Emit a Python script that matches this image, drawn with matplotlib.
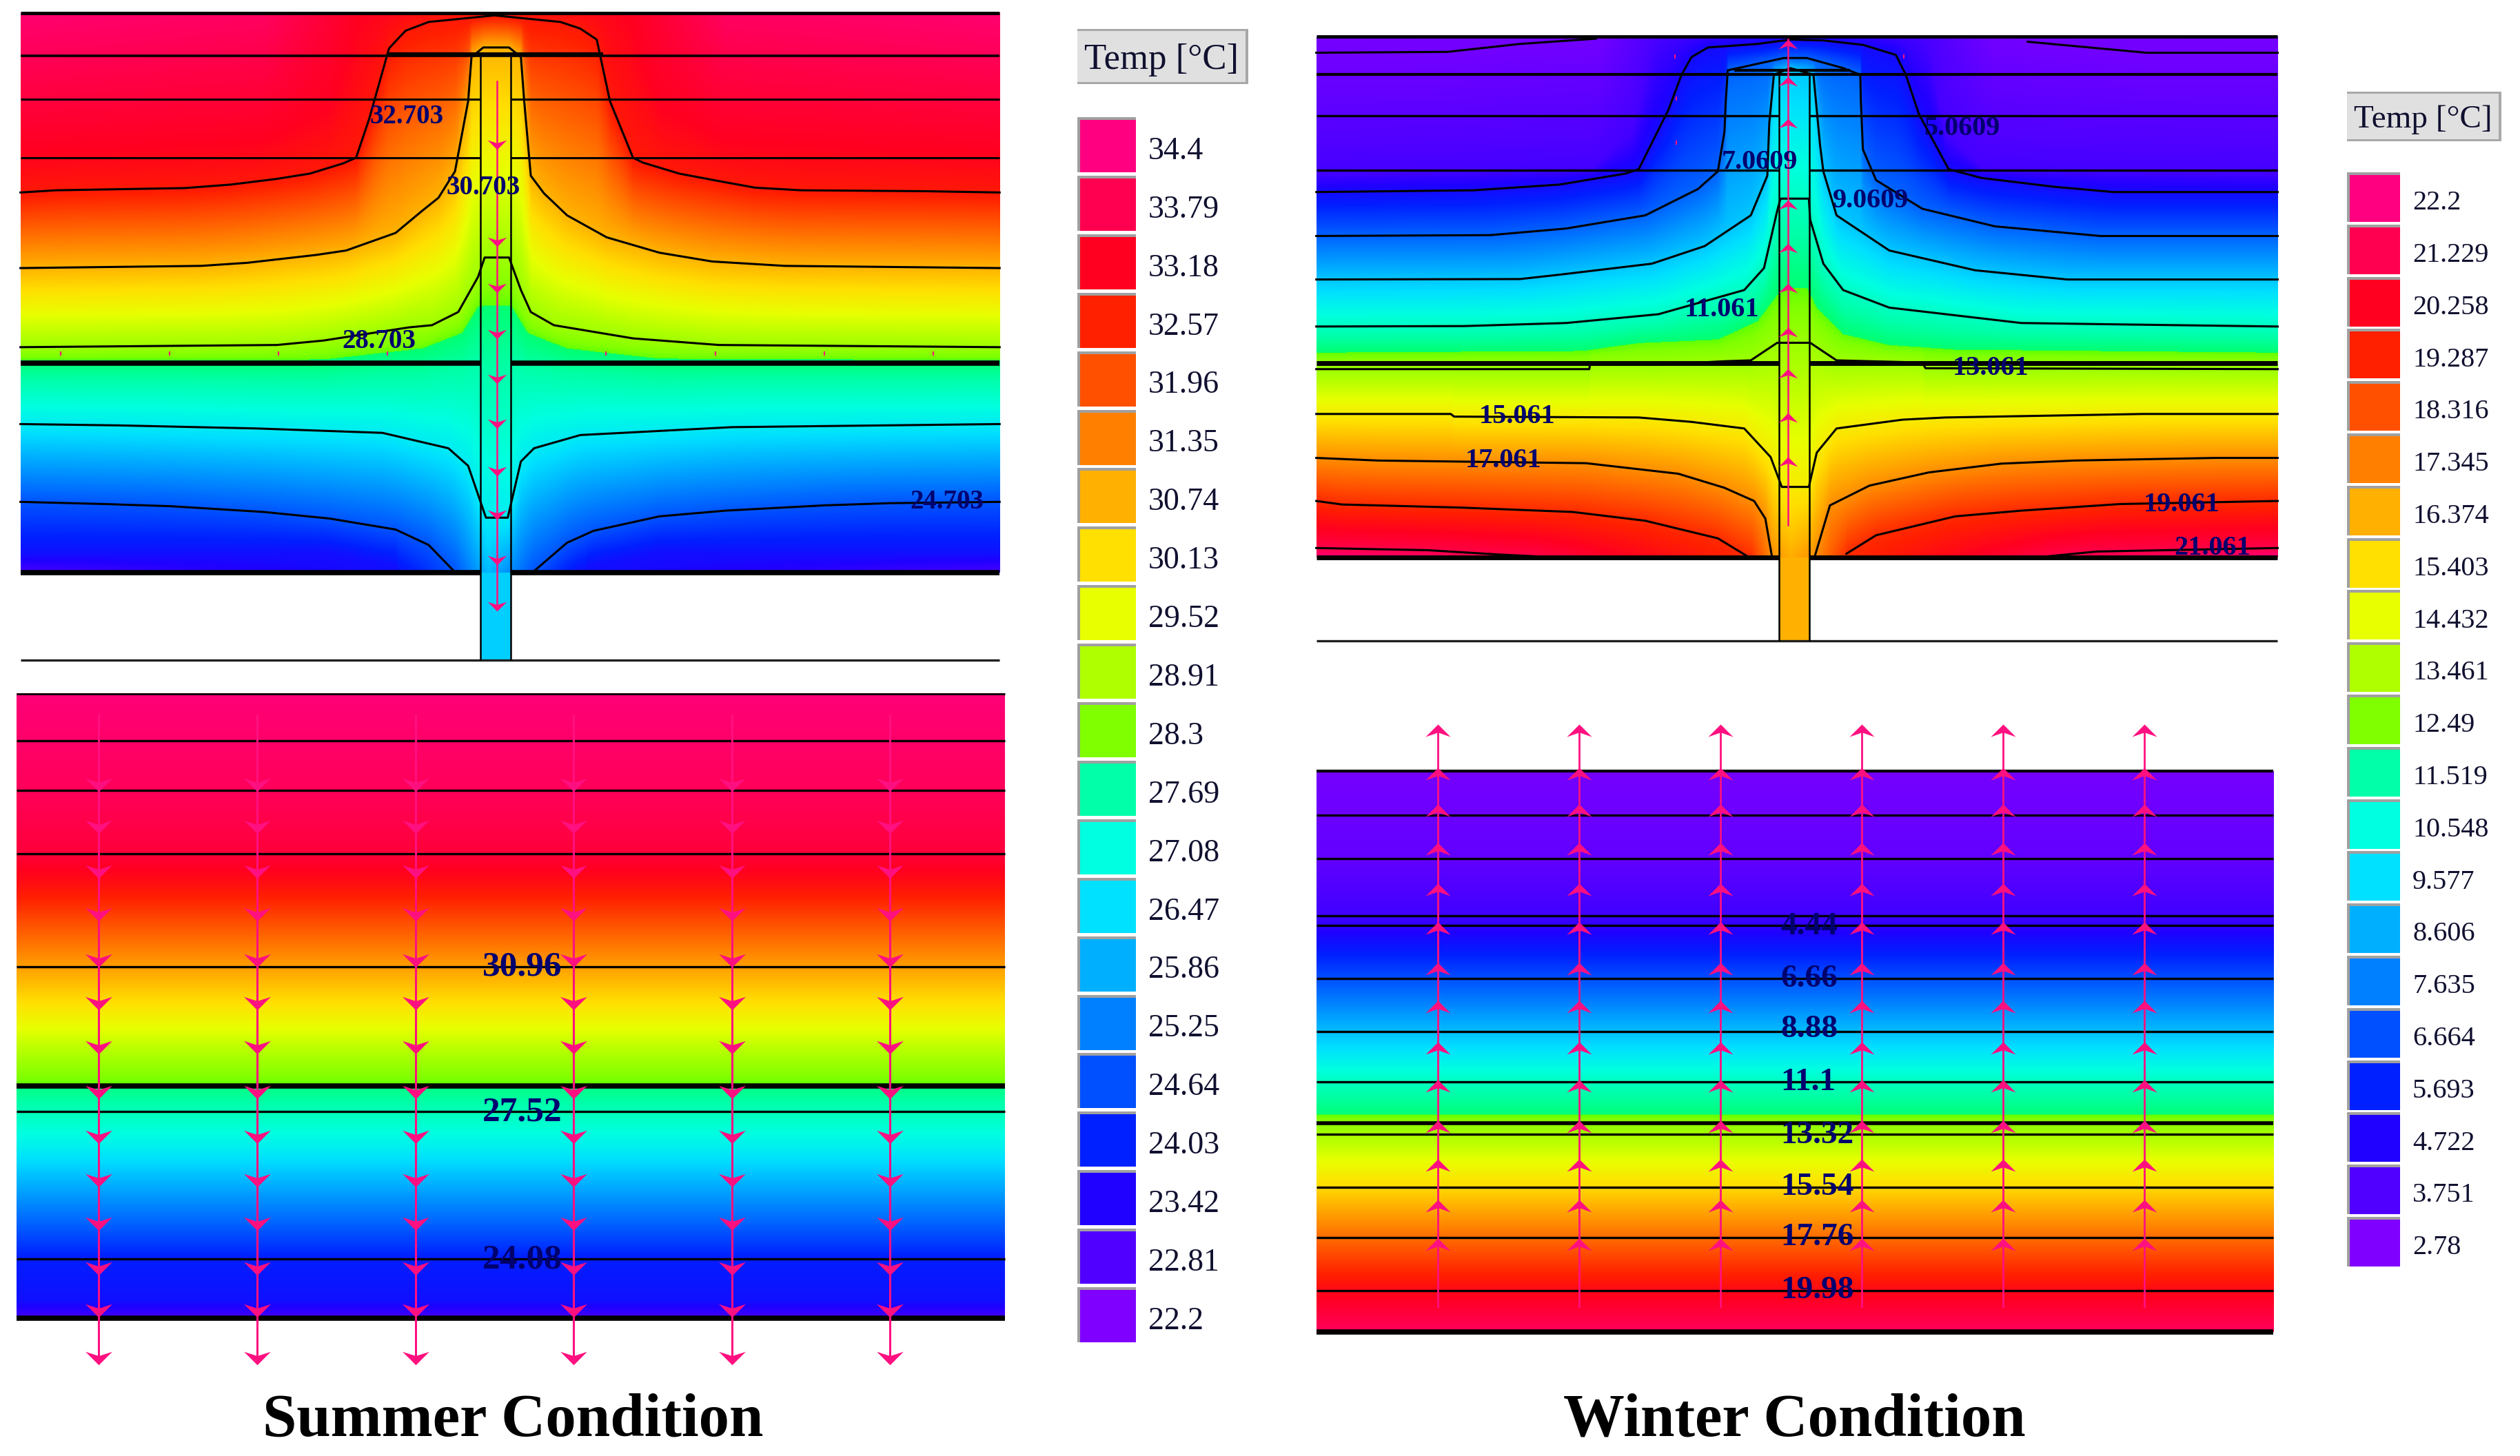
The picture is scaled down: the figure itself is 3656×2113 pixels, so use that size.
import numpy as np
import matplotlib
matplotlib.use('Agg')
import matplotlib.pyplot as plt
from matplotlib.colors import LinearSegmentedColormap
from matplotlib.patches import Rectangle
from matplotlib.path import Path

W, H = 3656, 2113
SERIF = ['Liberation Serif', 'DejaVu Serif']
PINK = '#FF1080'
NAVY = '#00006E'

# legend swatches, top to bottom
swatch_colors = ['#FF0080', '#FF0050', '#FF0020', '#FF2000', '#FF5000', '#FF8000', '#FFB000',
                 '#FFE000', '#E8FF00', '#B0FF00', '#80FF00', '#00FFA8', '#00FFE0', '#00E0FF',
                 '#00B0FF', '#0080FF', '#0050FF', '#0020FF', '#2000FF', '#5000FF', '#8000FF']
summer_ticks = ['34.4', '33.79', '33.18', '32.57', '31.96', '31.35', '30.74', '30.13', '29.52', '28.91',
                '28.3', '27.69', '27.08', '26.47', '25.86', '25.25', '24.64', '24.03', '23.42', '22.81', '22.2']
winter_ticks = ['22.2', '21.229', '20.258', '19.287', '18.316', '17.345', '16.374', '15.403', '14.432',
                '13.461', '12.49', '11.519', '10.548', '9.577', '8.606', '7.635', '6.664', '5.693',
                '4.722', '3.751', '2.78']

# summer detail isotherms as (x, depth)
s_33 = [(31, 345), (400, 320), (500, 240), (530, 120), (545, 20), (955, 20), (970, 120), (1000, 240), (1100, 320), (1516, 345)]
s_32 = [(31, 438), (85, 433), (280, 428), (350, 420), (420, 407), (470, 395), (520, 372), (540, 359), (560, 270), (590, 110), (615, 70), (650, 50), (750, 35),
        (850, 50), (880, 65), (905, 90), (925, 230), (960, 359), (975, 370), (1030, 395), (1090, 412), (1145, 427), (1215, 433), (1400, 435), (1516, 438)]
s_30 = [(31, 610), (305, 605), (375, 598), (480, 580), (525, 570), (600, 530), (640, 480), (665, 450), (690, 390), (710, 230), (715, 130), (733, 108), (772, 108),
        (790, 130), (795, 230), (805, 400), (825, 440), (860, 490), (920, 540), (1000, 575), (1080, 595), (1190, 605), (1516, 610)]
s_28 = [(31, 790), (420, 785), (490, 775), (620, 745), (655, 740), (695, 710), (725, 630), (735, 586), (772, 586), (790, 660),
        (805, 710), (840, 740), (960, 770), (1090, 785), (1516, 790)]
s_28j = [(31, 821), (490, 820), (640, 795), (700, 760), (725, 700), (775, 700), (800, 760), (860, 795), (1000, 818), (1516, 821)]
s_26 = [(31, 965), (180, 968), (390, 975), (580, 985), (680, 1020), (710, 1060), (737, 1178), (770, 1178), (790, 1050),
        (810, 1020), (880, 990), (1110, 972), (1340, 968), (1516, 965)]
s_24 = [(31, 1142), (160, 1147), (260, 1152), (400, 1165), (500, 1180), (600, 1205), (650, 1240), (690, 1302), (691, 1400),
        (807, 1400), (808, 1302), (860, 1235), (900, 1208), (1000, 1175), (1100, 1162), (1250, 1150), (1350, 1145), (1516, 1142)]
s_23 = [(31, 1262), (500, 1258), (600, 1290), (625, 1400), (870, 1400), (890, 1290), (1000, 1258), (1516, 1262)]
summer_levels = [33.18, 32.703, 30.703, 28.703, 28.1, 26.703, 24.703, 23.7]
summer_curves = [s_33, s_32, s_30, s_28, s_28j, s_26, s_24, s_23]
summer_drawn = [False, True, True, True, False, True, True, False]
summer_top_x = [31, 400, 545, 650, 750, 850, 955, 1100, 1516]
summer_top_t = [34.2, 34.0, 33.18, 32.9, 32.75, 32.9, 33.18, 34.0, 34.2]
summer_bot_x = [31, 600, 690, 740, 808, 880, 1516]
summer_bot_t = [22.9, 23.7, 24.7, 26.0, 24.7, 23.7, 22.9]
summer_notes = [('32.703', 617, 265), ('30.703', 733, 428), ('28.703', 575, 777), ('24.703', 1436, 1142)]
summer_marks = [92, 257, 422, 588, 919, 1085, 1250, 1415]
summer_heads = [330, 550, 655, 760, 862, 965, 1072, 1172, 1275, 1380]

# winter detail isotherms
w_3 = [(31, 120), (230, 118), (340, 100), (455, 88), (460, 70), (1060, 70), (1110, 95), (1290, 120), (1489, 120)]
w_4 = [(31, 395), (450, 380), (510, 300), (540, 120), (560, 70), (940, 70), (960, 120), (985, 300), (1040, 380), (1489, 395)]
w_5 = [(31, 437), (270, 433), (400, 420), (500, 395), (520, 385), (565, 250), (585, 170), (600, 130), (625, 108), (700, 100),
       (750, 90), (800, 92), (860, 102), (910, 125), (925, 170), (945, 260), (990, 385), (1040, 405), (1150, 425), (1240, 437), (1489, 437)]
w_7 = [(31, 537), (295, 535), (410, 520), (530, 490), (610, 430), (640, 390), (650, 300), (652, 230), (655, 160), (740, 132),
       (775, 132), (830, 155), (856, 170), (857, 235), (860, 340), (880, 410), (950, 475), (1060, 515), (1220, 537), (1489, 537)]
w_9 = [(31, 636), (340, 635), (400, 625), (540, 600), (620, 560), (690, 490), (715, 400), (718, 280), (725, 170), (750, 155),
       (785, 170), (795, 330), (800, 390), (820, 490), (900, 570), (1030, 615), (1170, 636), (1489, 636)]
w_11 = [(31, 743), (255, 742), (410, 735), (550, 715), (680, 660), (710, 610), (730, 480), (735, 452), (778, 452), (780, 500),
        (800, 600), (830, 660), (900, 700), (1100, 735), (1240, 738), (1489, 743)]
w_12 = [(31, 802), (435, 798), (520, 780), (640, 772), (700, 730), (730, 670), (740, 655), (775, 655), (790, 700), (830, 760),
        (900, 785), (1000, 795), (1489, 802)]
w_13 = [(31, 840), (445, 840), (446, 830), (550, 830), (650, 822), (690, 820), (730, 780), (780, 780), (820, 820), (950, 825),
        (955, 838), (1489, 840)]
w_15 = [(31, 942), (235, 942), (240, 948), (520, 950), (600, 960), (680, 975), (720, 1040), (737, 1108), (778, 1108), (790, 1030),
        (820, 975), (920, 955), (985, 950), (1285, 942), (1489, 942)]
w_17 = [(31, 1042), (125, 1048), (440, 1054), (580, 1078), (650, 1110), (695, 1140), (712, 1180), (722, 1266), (723, 1400),
        (786, 1400), (787, 1266), (810, 1150), (870, 1105), (960, 1075), (1070, 1055), (1180, 1048), (1395, 1042), (1489, 1042)]
w_19 = [(31, 1140), (70, 1148), (250, 1155), (420, 1165), (530, 1185), (640, 1225), (685, 1266), (686, 1400), (834, 1400),
        (835, 1260), (880, 1218), (1000, 1175), (1100, 1162), (1250, 1147), (1489, 1140)]
w_21 = [(31, 1247), (200, 1252), (310, 1262), (365, 1266), (366, 1400), (1139, 1400), (1140, 1266), (1215, 1255), (1489, 1247)]
winter_levels = [3.06, 4.0, 5.06, 7.06, 9.06, 11.06, 12.2, 13.06, 15.06, 17.06, 19.06, 21.06]
winter_curves = [w_3, w_4, w_5, w_7, w_9, w_11, w_12, w_13, w_15, w_17, w_19, w_21]
winter_drawn = [True, False, True, True, True, True, False, True, True, True, True, True]
winter_top_x = [31, 460, 560, 700, 750, 800, 940, 1060, 1489]
winter_top_t = [3.0, 3.06, 4.0, 4.6, 4.9, 4.6, 4.0, 3.06, 3.0]
winter_bot_x = [31, 365, 690, 722, 750, 787, 835, 1140, 1489]
winter_bot_t = [22.0, 21.06, 19.06, 17.06, 16.4, 17.06, 19.06, 21.06, 22.0]
winter_notes = [('5.0609', 1010, 292), ('7.0609', 703, 370), ('9.0609', 872, 457), ('11.061', 646, 705), ('13.061', 1054, 838),
                ('15.061', 336, 948), ('17.061', 315, 1048), ('19.061', 1343, 1148), ('21.061', 1390, 1247)]
winter_marks_x = [575, 922, 577, 577]
winter_marks_y = [128, 128, 225, 325]
winter_heads = [100, 185, 280, 465, 565, 655, 755, 850, 950, 1050]

# clear-wall profiles, depth against temperature
cs_depth = [37, 132, 232, 360, 420, 587, 680, 820, 832, 879, 950, 1175, 1260, 1295]
cs_temp = [34.3, 34.1, 33.9, 33.5, 32.9, 30.96, 29.9, 28.2, 27.95, 27.52, 26.8, 24.0, 23.72, 22.95]
cs_lines = [132, 232, 360, 587, 879, 1175]
cs_notes = [('30.96', 792, 588), ('27.52', 792, 880), ('24.08', 792, 1177)]
cs_arrow_x = [149, 390, 630, 870, 1110, 1350]
cs_heads = [220, 305, 395, 482, 575, 660, 750, 840, 930, 1017, 1105, 1195, 1280, 1375]

cw_depth = [143, 325, 445, 465, 500, 576, 686, 740, 791, 858, 862, 901, 985, 1012, 1117, 1215, 1227, 1313]
cw_temp = [3.0, 3.4, 4.1, 4.44, 5.2, 6.66, 8.88, 10.0, 11.1, 12.1, 12.3, 13.32, 15.0, 15.54, 17.76, 19.7, 19.98, 21.5]
cw_lines = [235, 325, 445, 465, 576, 686, 791, 901, 1012, 1117, 1227]
cw_notes = [('4.44', 735, 467), ('6.66', 735, 577), ('8.88', 735, 682), ('11.1', 735, 792), ('13.32', 735, 903),
            ('15.54', 735, 1012), ('17.76', 735, 1117), ('19.98', 735, 1227)]
cw_arrow_x = [215, 430, 644, 858, 1073, 1287]
cw_heads = [58, 148, 225, 305, 390, 470, 555, 635, 720, 800, 885, 965, 1050, 1130]

# rainbow from the swatches, with the hard step seen at the insulation face
stops = [(i / 20, c) for i, c in enumerate(swatch_colors[::-1])]
stops = stops[:10] + [(0.4849, '#00FF70'), (0.485, '#60FF00')] + stops[10:]
rainbow = LinearSegmentedColormap.from_list('temp', stops, N=1024)

head_down = Path([(-1, 0.5), (0, -0.5), (1, 0.5), (0, 0.18), (-1, 0.5)], closed=True)
head_up = Path([(-1, -0.5), (0, 0.5), (1, -0.5), (0, -0.15), (-1, -0.5)], closed=True)

fig = plt.figure(figsize=(W / 100, H / 100), dpi=100)


def crop_axes(x, y, w, h):
    ax = fig.add_axes([x / W, 1 - (y + h) / H, w / W, h / H])
    ax.set_xlim(0, 1568)
    ax.set_ylim(1568, 0)
    ax.axis('off')
    return ax


def detail_field(curves, levels, top_x, top_t, bot_x, bot_t, x0, x1, y0, y1):
    xs = np.linspace(x0, x1, 800)
    ys = np.linspace(y0, y1, 700)
    out = np.zeros((ys.size, xs.size))
    parsed = [np.array(c, float) for c in curves]
    for j, x in enumerate(xs):
        py, pt = [y0], [np.interp(x, top_x, top_t)]
        for lev, c in zip(levels, parsed):
            y = np.interp(x, c[:, 0], c[:, 1])
            if py[-1] < y < y1:
                py.append(y)
                pt.append(lev)
        py.append(y1)
        pt.append(np.interp(x, bot_x, bot_t))
        out[:, j] = np.interp(ys, py, pt)
    return out


def draw_detail(ax, curves, levels, drawn, top, bot, x0, x1, y0, y1, vmin, vmax, notes, size):
    ax.imshow(detail_field(curves, levels, top[0], top[1], bot[0], bot[1], x0, x1, y0, y1),
              cmap=rainbow, vmin=vmin, vmax=vmax, extent=(x0, x1, y1, y0), aspect='auto', zorder=1)
    for c, show in zip(curves, drawn):
        if show:
            c = np.array(c, float)
            yy = np.ma.masked_where((c[:, 1] <= y0) | (c[:, 1] >= y1), c[:, 1])
            ax.plot(c[:, 0], yy, color='black', lw=2.2, zorder=3)
    clip = Rectangle((x0, y0), x1 - x0, y1 - y0, transform=ax.transData)
    for s, x, y in notes:
        t = ax.text(x, y, s, ha='center', va='center', family=SERIF, weight='bold', size=size, color=NAVY, zorder=6)
        t.set_clip_path(clip)
    ax.set_xlim(0, 1568)
    ax.set_ylim(1568, 0)


def draw_clear(ax, depth, temp, x0, x1, y0, y1, vmin, vmax, lines, notes, size, ha):
    ys = np.linspace(y0, y1, 800)
    col = np.interp(ys, depth, temp)[:, None]
    ax.imshow(col, cmap=rainbow, vmin=vmin, vmax=vmax, extent=(x0, x1, y1, y0), aspect='auto', zorder=1)
    ax.hlines(lines, x0, x1, color='black', lw=2.4, zorder=3)
    for s, x, y in notes:
        ax.text(x, y, s, ha=ha, va='center', family=SERIF, weight='bold', size=size, color=NAVY, zorder=6)
    ax.set_xlim(0, 1568)
    ax.set_ylim(1568, 0)


def legend(x, y, pitch, bw, bh, tx, ty, tw, thh, ticks, size, tsize):
    for i, (c, s) in enumerate(zip(swatch_colors, ticks)):
        yy = y + i * pitch
        ov.add_patch(Rectangle((x, yy), bw, bh, fc='#A0A0A0', ec='none'))
        ov.add_patch(Rectangle((x + 4, yy + 4), bw - 4, bh - 4, fc=c, ec='none'))
        ov.text(x + bw + 18, yy + bh * 0.62, s, family=SERIF, size=size, va='center', ha='left', color='#101030')
    ov.add_patch(Rectangle((tx, ty), tw, thh, fc='#A8A8A8', ec='none'))
    ov.add_patch(Rectangle((tx, ty + 3), tw - 4, thh - 6, fc='#E0E0E0', ec='none'))
    ov.text(tx + tw / 2 - 2, ty + thh / 2 + 5, 'Temp [°C]', family=SERIF, size=tsize, va='center', ha='center', color='#101030')


# summer detail
a = crop_axes(0, 0, 1500, 1000)
draw_detail(a, summer_curves, summer_levels, summer_drawn, (summer_top_x, summer_top_t), (summer_bot_x, summer_bot_t),
            31, 1516, 30, 1303, 22.2, 34.4, summer_notes, 28)
a.add_patch(Rectangle((729, 1303), 46, 199, fc='#00CFFF', ec='none', zorder=2))
a.hlines([30, 127], 31, 1516, color='black', lw=[3.5, 2.6], zorder=4)
a.hlines(122, 590, 915, color='black', lw=3, zorder=4)
a.hlines([226, 359], 31, 729, color='black', lw=2.2, zorder=4)
a.hlines([226, 359], 775, 1516, color='black', lw=2.2, zorder=4)
a.hlines([827, 1303], 31, 729, color='black', lw=5.5, zorder=4)
a.hlines([827, 1303], 775, 1516, color='black', lw=5.5, zorder=4)
a.hlines(1502, 31, 1516, color='#202020', lw=2.4, zorder=4)
a.vlines([729, 775], 120, 1502, color='black', lw=1.8, zorder=4)
a.plot(summer_marks, [805] * len(summer_marks), ls='none', marker='|', ms=4, mew=1.5, color=PINK, zorder=5)
a.plot([754, 754], [185, summer_heads[-1]], color=PINK, lw=1.8, zorder=5)
a.plot([754] * len(summer_heads), summer_heads, ls='none', marker=head_down, ms=20, mew=0, color=PINK, zorder=5)

# winter detail
b = crop_axes(1880, 0, 1500, 1000)
draw_detail(b, winter_curves, winter_levels, winter_drawn, (winter_top_x, winter_top_t), (winter_bot_x, winter_bot_t),
            31, 1489, 83, 1268, 2.78, 22.2, winter_notes, 29)
b.add_patch(Rectangle((733, 1268), 46, 190, fc='#FFB000', ec='none', zorder=2))
b.hlines([83, 169], 31, 1489, color='black', lw=[3.5, 3], zorder=4)
b.hlines(160, 665, 840, color='black', lw=3, zorder=4)
b.hlines([263, 387], 31, 733, color='black', lw=2.4, zorder=4)
b.hlines([263, 387], 779, 1489, color='black', lw=2.4, zorder=4)
b.hlines([827, 1268], 31, 733, color='black', lw=5, zorder=4)
b.hlines([827, 1268], 779, 1489, color='black', lw=5, zorder=4)
b.hlines(1458, 31, 1489, color='#202020', lw=2.4, zorder=4)
b.vlines([733, 779], 170, 1458, color='black', lw=1.8, zorder=4)
b.plot(winter_marks_x, winter_marks_y, ls='none', marker='|', ms=4, mew=1.5, color=PINK, zorder=5)
b.plot([746, 746], [1195, 90], color=PINK, lw=1.8, zorder=5)
b.plot([746] * len(winter_heads), winter_heads, ls='none', marker=head_up, ms=20, mew=0, color=PINK, zorder=5)

# summer clear wall
c = crop_axes(0, 980, 1500, 1130)
draw_clear(c, cs_depth, cs_temp, 25, 1524, 37, 1295, 22.2, 34.4, cs_lines, cs_notes, 37, 'center')
c.hlines(37, 25, 1524, color='black', lw=2, zorder=3)
c.hlines([827, 1295], 25, 1524, color='black', lw=5.5, zorder=3)
for x in cs_arrow_x:
    c.plot([x, x], [80, cs_heads[-1]], color=PINK, lw=2.2, zorder=5)
    c.plot([x] * len(cs_heads), cs_heads, ls='none', marker=head_down, ms=28, mew=0, color=PINK, zorder=5)

# winter clear wall
d = crop_axes(1880, 1020, 1500, 1090)
draw_clear(d, cw_depth, cw_temp, 31, 1482, 143, 1313, 2.78, 22.2, cw_lines, cw_notes, 34, 'left')
d.hlines(143, 31, 1482, color='black', lw=3, zorder=3)
d.hlines(878, 31, 1482, color='black', lw=4, zorder=3)
d.hlines(1313, 31, 1482, color='black', lw=5.5, zorder=3)
for x in cw_arrow_x:
    d.plot([x, x], [1260, cw_heads[0]], color=PINK, lw=2, zorder=5)
    d.plot([x] * len(cw_heads), cw_heads, ls='none', marker=head_up, ms=26, mew=0, color=PINK, zorder=5)

# legends and captions in picture pixels
ov = fig.add_axes([0, 0, 1, 1])
ov.set_xlim(0, W)
ov.set_ylim(H, 0)
ov.axis('off')
ov.patch.set_alpha(0)
legend(1563, 170, 84.9, 85, 80, 1563, 42, 248, 80, summer_ticks, 33, 38)
legend(3405, 250, 75.8, 77, 72, 3405, 133, 224, 72, winter_ticks, 29, 34)
ov.text(744, 2062, 'Summer Condition', family=SERIF, weight='bold', size=64, ha='center', va='center', color='black')
ov.text(2603, 2062, 'Winter Condition', family=SERIF, weight='bold', size=64, ha='center', va='center', color='black')

fig.savefig('out.png', dpi=100)
